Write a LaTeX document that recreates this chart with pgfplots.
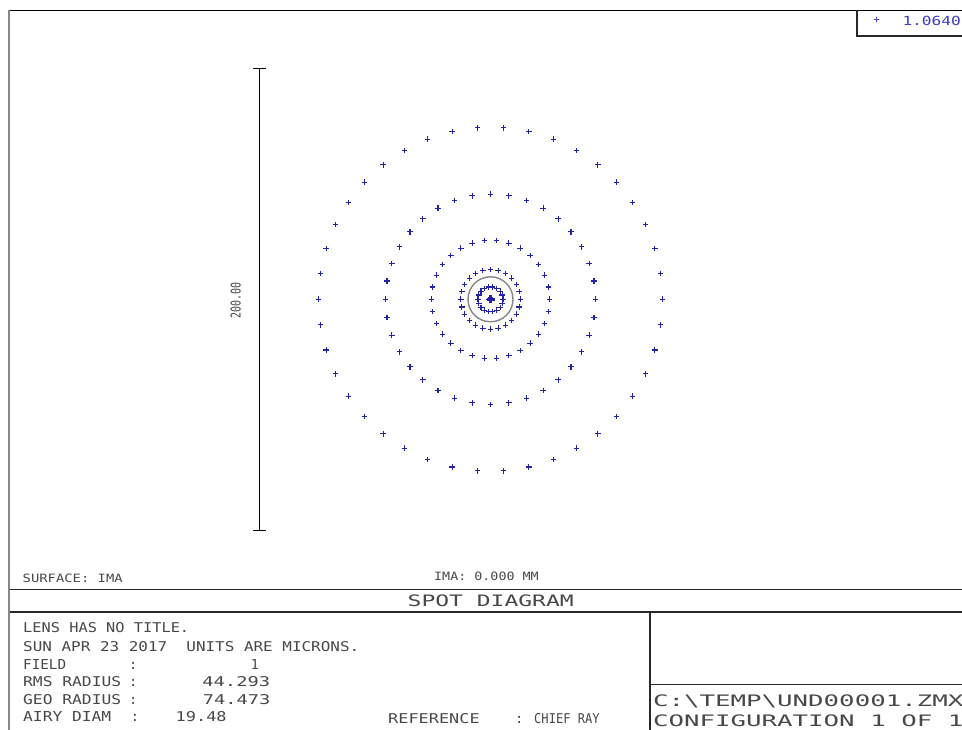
\documentclass[border=0pt]{standalone}
\usepackage{pgfplots}
\pgfplotsset{compat=1.18}
\usepackage{fontspec}
\usepackage{graphicx}
\setmainfont{DejaVu Sans Mono}
\newfontfamily\zm{DejaVu Sans Mono}
\definecolor{txt}{RGB}{72,72,72}
\definecolor{frm}{RGB}{40,40,40}
\definecolor{lft}{RGB}{135,135,135}
\definecolor{spot}{RGB}{35,35,170}
\definecolor{leg}{RGB}{60,60,200}
\definecolor{airy}{RGB}{135,135,135}
\newcommand\zt[3]{\resizebox{#1bp}{#2bp}{\zm #3}}
\newcommand\zcolon[2]{\node[txt,anchor=base,inner sep=0] at (#1,#2) {\fontsize{13.7bp}{14bp}\zm :};}

\pgfplotstableread[row sep=\\]{
a r\\
0 74.47\\ 8.571 74.47\\ 17.143 74.47\\ 25.714 74.47\\ 34.286 74.47\\ 42.857 74.47\\ 51.429 74.47\\
60 74.47\\ 68.571 74.47\\ 77.143 74.47\\ 85.714 74.47\\ 94.286 74.47\\ 102.857 74.47\\ 111.429 74.47\\
120 74.47\\ 128.571 74.47\\ 137.143 74.47\\ 145.714 74.47\\ 154.286 74.47\\ 162.857 74.47\\ 171.429 74.47\\
180 74.47\\ 188.571 74.47\\ 197.143 74.47\\ 205.714 74.47\\ 214.286 74.47\\ 222.857 74.47\\ 231.429 74.47\\
240 74.47\\ 248.571 74.47\\ 257.143 74.47\\ 265.714 74.47\\ 274.286 74.47\\ 282.857 74.47\\ 291.429 74.47\\
300 74.47\\ 308.571 74.47\\ 317.143 74.47\\ 325.714 74.47\\ 334.286 74.47\\ 342.857 74.47\\ 351.429 74.47\\
}\ringseven

\pgfplotstableread[row sep=\\]{
a r\\
0 45.5\\ 10 45.5\\ 20 45.5\\ 30 45.5\\ 40 45.5\\ 50 45.5\\ 60 45.5\\ 70 45.5\\ 80 45.5\\
90 45.5\\ 100 45.5\\ 110 45.5\\ 120 45.5\\ 130 45.5\\ 140 45.5\\ 150 45.5\\ 160 45.5\\ 170 45.5\\
180 45.5\\ 190 45.5\\ 200 45.5\\ 210 45.5\\ 220 45.5\\ 230 45.5\\ 240 45.5\\ 250 45.5\\ 260 45.5\\
270 45.5\\ 280 45.5\\ 290 45.5\\ 300 45.5\\ 310 45.5\\ 320 45.5\\ 330 45.5\\ 340 45.5\\ 350 45.5\\
}\ringsix

\pgfplotstableread[row sep=\\]{
a r\\
0 25.6\\ 12 25.6\\ 24 25.6\\ 36 25.6\\ 48 25.6\\ 60 25.6\\ 72 25.6\\ 84 25.6\\ 96 25.6\\ 108 25.6\\
120 25.6\\ 132 25.6\\ 144 25.6\\ 156 25.6\\ 168 25.6\\ 180 25.6\\ 192 25.6\\ 204 25.6\\ 216 25.6\\ 228 25.6\\
240 25.6\\ 252 25.6\\ 264 25.6\\ 276 25.6\\ 288 25.6\\ 300 25.6\\ 312 25.6\\ 324 25.6\\ 336 25.6\\ 348 25.6\\
}\ringfive

\pgfplotstableread[row sep=\\]{
a r\\
0 12.9\\ 15 12.9\\ 30 12.9\\ 45 12.9\\ 60 12.9\\ 75 12.9\\ 90 12.9\\ 105 12.9\\
120 12.9\\ 135 12.9\\ 150 12.9\\ 165 12.9\\ 180 12.9\\ 195 12.9\\ 210 12.9\\ 225 12.9\\
240 12.9\\ 255 12.9\\ 270 12.9\\ 285 12.9\\ 300 12.9\\ 315 12.9\\ 330 12.9\\ 345 12.9\\
}\ringfour

\pgfplotstableread[row sep=\\]{
a r\\
0 5.4\\ 20 5.4\\ 40 5.4\\ 60 5.4\\ 80 5.4\\ 100 5.4\\ 120 5.4\\ 140 5.4\\ 160 5.4\\
180 5.4\\ 200 5.4\\ 220 5.4\\ 240 5.4\\ 260 5.4\\ 280 5.4\\ 300 5.4\\ 320 5.4\\ 340 5.4\\
}\ringthree

\pgfplotstableread[row sep=\\]{
a r\\
0 0.6\\ 30 0.6\\ 60 0.6\\ 90 0.6\\ 120 0.6\\ 150 0.6\\ 180 0.6\\ 210 0.6\\ 240 0.6\\ 270 0.6\\ 300 0.6\\ 330 0.6\\
0 0.1\\ 60 0.1\\ 120 0.1\\ 180 0.1\\ 240 0.1\\ 300 0.1\\
0 0\\
}\ringcore

\begin{document}
\begin{tikzpicture}
\path[use as bounding box] (0,0) rectangle (962bp,730bp);
\fill[white] (0,0) rectangle (962bp,730bp);
\begin{scope}[shift={(0bp,730bp)},x=1bp,y=-1bp]
% frame
\draw[line width=2bp, lft] (8.7,10) -- (8.7,730);
\draw[line width=1.1bp, black] (9.7,10.3) -- (962,10.3);
\draw[line width=1.1bp, frm] (9.7,589.5) -- (962,589.5);
\draw[line width=1.1bp, frm] (9.7,612) -- (962,612);
\draw[line width=1.1bp, frm] (650,612) -- (650,730);
\draw[line width=1.1bp, frm] (650,684.5) -- (962,684.5);
\draw[line width=1.1bp, frm] (857,10.3) -- (857,36) -- (962,36);

% texts
\node[txt,anchor=base west,inner sep=0] at (22.5,582.7) {\zt{100}{8.5}{SURFACE: IMA}};
\node[txt,anchor=base west,inner sep=0] at (434,581) {\zt{104.5}{8.5}{IMA: 0.000 MM}};
\node[txt,anchor=base west,inner sep=0] at (407.5,606.5) {\zt{166}{11.7}{SPOT DIAGRAM}};

\node[txt,anchor=base west,inner sep=0] at (23,633) {\zt{166}{10}{LENS HAS NO TITLE.}};
\node[txt,anchor=base west,inner sep=0] at (23,651.7) {\zt{336}{10}{SUN APR 23 2017~~UNITS ARE MICRONS.}};
\node[txt,anchor=base west,inner sep=0] at (23,669.7) {\zt{43}{10}{FIELD}};
\node[txt,anchor=base west,inner sep=0] at (23,687) {\zt{98}{10}{RMS RADIUS}};
\node[txt,anchor=base west,inner sep=0] at (23,704.7) {\zt{98}{10}{GEO RADIUS}};
\node[txt,anchor=base west,inner sep=0] at (23,722) {\zt{88}{10}{AIRY DIAM}};
\zcolon{133.3}{669.7}
\zcolon{133.3}{687}
\zcolon{133.3}{704.7}
\zcolon{135}{722}
\node[txt,anchor=base east,inner sep=0] at (259,669.7) {\zt{8}{10}{1}};
\node[txt,anchor=base east,inner sep=0] at (270.5,687) {\zt{68}{10}{44.293}};
\node[txt,anchor=base east,inner sep=0] at (270.5,704.7) {\zt{67.5}{10}{74.473}};
\node[txt,anchor=base west,inner sep=0] at (175.5,722) {\zt{51}{10}{19.48}};

\node[txt,anchor=base west,inner sep=0] at (388,723.3) {\zt{91.5}{10}{REFERENCE}};
\zcolon{519.3}{723.3}
\node[txt,anchor=base west,inner sep=0] at (534,723.3) {\zt{65.5}{10}{CHIEF RAY}};

\node[txt,anchor=base west,inner sep=0] at (653,706.5) {\scalebox{1.63}[1]{\fontsize{15.8bp}{16bp}\zm C:\textbackslash TEMP\textbackslash UND00001.ZMX}};
\node[txt,anchor=base west,inner sep=0] at (653,727) {\scalebox{1.63}[1]{\fontsize{15.8bp}{16bp}\zm CONFIGURATION 1 OF 1}};

% legend
\node[leg,inner sep=0] at (876.7,20.7) {\fontsize{11bp}{11bp}\zm +};
\node[leg,anchor=base west,inner sep=0] at (902.3,25.35) {\zt{58.5}{9.3}{1.0640}};
\end{scope}

\begin{axis}[at={(490.5bp,430.7bp)}, anchor=center, scale only axis,
  width=462bp, height=462bp, xmin=-100, xmax=100, ymin=-100, ymax=100,
  hide axis, clip=false]
  % scale bar
  \draw[line width=1.3bp, black] (axis cs:-100,-100) -- (axis cs:-100,100);
  \draw[line width=1.3bp, black] (axis cs:-102.6,100) -- (axis cs:-97.4,100);
  \draw[line width=1.3bp, black] (axis cs:-102.6,-100) -- (axis cs:-97.4,-100);
  \node[txt,rotate=90,inner sep=0] at (axis cs:-110.3,-0.6) {\zt{36}{10}{200.00}};
  % airy disk
  \draw[airy, line width=1.4bp] (axis cs:0,0) circle[radius=9.74];
  % spots
  \addplot[only marks, mark=+, mark size=2.8bp, spot, mark options={line width=1.1bp}, data cs=polar] table[x=a,y=r] {\ringseven};
  \addplot[only marks, mark=+, mark size=2.8bp, spot, mark options={line width=1.1bp}, data cs=polar] table[x=a,y=r] {\ringsix};
  \addplot[only marks, mark=+, mark size=2.8bp, spot, mark options={line width=1.1bp}, data cs=polar] table[x=a,y=r] {\ringfive};
  \addplot[only marks, mark=+, mark size=2.8bp, spot, mark options={line width=1.1bp}, data cs=polar] table[x=a,y=r] {\ringfour};
  \addplot[only marks, mark=+, mark size=2.8bp, spot, mark options={line width=1.1bp}, data cs=polar] table[x=a,y=r] {\ringthree};
  \addplot[only marks, mark=+, mark size=2.8bp, spot, mark options={line width=1.1bp}, data cs=polar] table[x=a,y=r] {\ringcore};
\end{axis}
\end{tikzpicture}
\end{document}
